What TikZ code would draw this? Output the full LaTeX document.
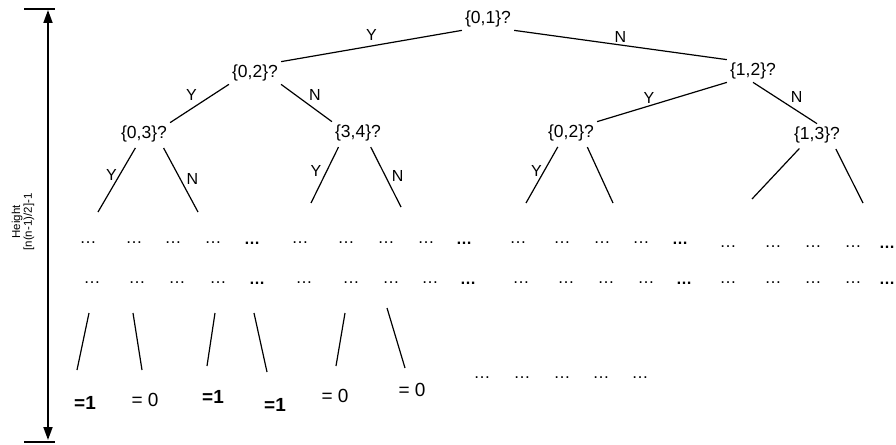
\documentclass[tikz,border=0pt]{standalone}
\usepackage{fontspec}
\setmainfont{Liberation Sans}
\usetikzlibrary{arrows.meta,positioning}
\tikzset{
  qnode/.style={font=\fontsize{17.5}{20}\selectfont, inner sep=3pt},
  edgelabel/.style={font=\fontsize{16}{19}\selectfont, inner sep=2pt},
  treeline/.style={line width=1.2pt},
  dotsnode/.style={font=\fontsize{17}{20}\selectfont, inner sep=0pt},
  bolddots/.style={font=\fontsize{16}{19}\selectfont\bfseries, inner sep=0pt},
  leafnode/.style={font=\fontsize{19}{22}\selectfont, inner sep=2pt},
  boldleaf/.style={leafnode, font=\fontsize{19}{22}\selectfont\bfseries},
  heightlabel/.style={font=\fontsize{11.5}{9.5}\selectfont, align=center, inner sep=0pt},
  heightarrow/.style={line width=1.8pt, {Triangle[length=13pt,width=9pt]}-{Triangle[length=13pt,width=9pt]}}
}

\begin{document}
\begin{tikzpicture}[x=1pt,y=-1pt]
\useasboundingbox (0,0) rectangle (896,444);
% height of the tree
\coordinate (htop) at (48,10);
\coordinate (hbot) at (48,440);
\coordinate (tbarl) at (24,9);
\coordinate (tbarr) at (55,9);
\coordinate (bbarl) at (24,442);
\coordinate (bbarr) at (55,442);
\draw[heightarrow] (hbot) -- (htop);
\draw[line width=1.2pt] (tbarl) -- (tbarr);
\draw[line width=1.2pt] (bbarl) -- (bbarr);
\node[heightlabel, rotate=90] (hlabel) at (23,222) {Height\\{}[n(n-1)/2]-1};

% questions
\node[qnode] (q01) at (488,19) {\{0,1\}?};
\node[qnode] (q02) at (255,73) {\{0,2\}?};
\node[qnode] (q12) at (753,71) {\{1,2\}?};
\node[qnode] (q03) at (144,134) {\{0,3\}?};
\node[qnode] (q34) at (358,133) {\{3,4\}?};
\node[qnode] (q02b) at (571,133) {\{0,2\}?};
\node[qnode] (q13) at (817,135) {\{1,3\}?};

\draw[treeline] (q01.south west) -- (q02.north east) node[edgelabel, midway, above=3pt] {Y};
\draw[treeline] (q01.south east) -- (q12.north west) node[edgelabel, midway, above] {N};
\draw[treeline] (q02.south west) -- (q03.north east) node[edgelabel, midway, above left] {Y};
\draw[treeline] (q02.south east) -- (q34.north west) node[edgelabel, midway, above right] {N};
\draw[treeline] (q12.south west) -- (q02b.north east) node[edgelabel, pos=0.6, above] {Y};
\draw[treeline] (q12.south) -- (q13.north) node[edgelabel, pos=0.55, above right] {N};

% open branches
\coordinate (a1) at (98,212);
\coordinate (a2) at (198,212);
\coordinate (a3) at (311,203);
\coordinate (a4) at (401,207);
\coordinate (a5) at (526,203);
\coordinate (a6) at (613,203);
\coordinate (a7) at (752,199);
\coordinate (a8) at (863,203);
\draw[treeline, shorten <=3pt] (q03.238) -- (a1) node[edgelabel, pos=0.45, left] {Y};
\draw[treeline, shorten <=3pt] (q03.328) -- (a2) node[edgelabel, pos=0.5, right=4pt] {N};
\draw[treeline, shorten <=3pt] (q34.212) -- (a3) node[edgelabel, pos=0.45, left=3pt] {Y};
\draw[treeline, shorten <=3pt] (q34.315) -- (a4) node[edgelabel, pos=0.5, right=4pt] {N};
\draw[treeline, shorten <=3pt] (q02b.224) -- (a5) node[edgelabel, pos=0.45, left] {Y};
\draw[treeline, shorten <=3pt] (q02b.323) -- (a6);
\draw[treeline, shorten <=3pt] (q13.216) -- (a7);
\draw[treeline, shorten <=3pt] (q13.327) -- (a8);

% rows of dots
\foreach \x [count=\i] in {88,134,173,213,300,346,386,426,518,562,602,641}
  \node[dotsnode] (da\i) at (\x,243) {…};
\foreach \x [count=\i] in {728,773,813,853}
  \node[dotsnode] (db\i) at (\x,247) {…};
\foreach \x [count=\i] in {252,464,680}
  \node[bolddots] (dc\i) at (\x,243) {…};
\node[bolddots] (dc4) at (887,247) {…};
\foreach \x [count=\i] in {92,137,177,218,304,351,391,430,521,566,606,646,728,773,813,853}
  \node[dotsnode] (dd\i) at (\x,283) {…};
\foreach \x [count=\i] in {257,468,684,887}
  \node[bolddots] (de\i) at (\x,283) {…};
\foreach \x [count=\i] in {482,522,562,601,640}
  \node[dotsnode] (df\i) at (\x,378) {…};

% last branches and leaves
\coordinate (lt1) at (89,313);
\coordinate (lb1) at (77,370);
\coordinate (lt2) at (133,313);
\coordinate (lb2) at (142,370);
\coordinate (lt3) at (215,313);
\coordinate (lb3) at (207,366);
\coordinate (lt4) at (254,313);
\coordinate (lb4) at (267,372);
\coordinate (lt5) at (345,313);
\coordinate (lb5) at (336,366);
\coordinate (lt6) at (387,308);
\coordinate (lb6) at (405,368);
\draw[treeline] (lt1) -- (lb1);
\draw[treeline] (lt2) -- (lb2);
\draw[treeline] (lt3) -- (lb3);
\draw[treeline] (lt4) -- (lb4);
\draw[treeline] (lt5) -- (lb5);
\draw[treeline] (lt6) -- (lb6);
\node[boldleaf] (leaf1) at (85,403) {=1};
\node[leafnode] (leaf2) at (145,400) {= 0};
\node[boldleaf] (leaf3) at (213,397) {=1};
\node[boldleaf] (leaf4) at (275,405) {=1};
\node[leafnode] (leaf5) at (335,396) {= 0};
\node[leafnode] (leaf6) at (412,390) {= 0};
\end{tikzpicture}
\end{document}
